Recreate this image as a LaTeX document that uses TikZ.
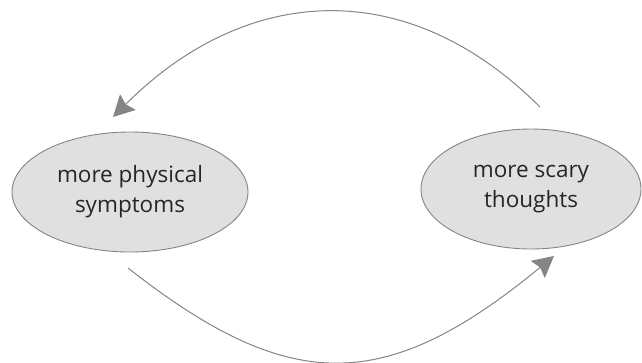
\documentclass[tikz,border=0pt]{standalone}
\usepackage{fontspec}
\setmainfont{Open Sans}
\usepackage{tikz}
\usetikzlibrary{shapes.geometric,arrows.meta}

\definecolor{bubblefill}{HTML}{E0E0E0}
\definecolor{linegray}{HTML}{858585}
\definecolor{textgray}{HTML}{262626}

\begin{document}
\begin{tikzpicture}[x=1pt, y=-1pt,
    bubble/.style={ellipse, draw=linegray, fill=bubblefill, line width=0.9pt,
      inner sep=0pt, align=center, text=textgray,
      font=\fontsize{22.5}{30}\selectfont},
    cycle/.style={draw=linegray, line width=1pt,
      -{Stealth[length=21pt, width=22pt, inset=3pt]}}]
      \useasboundingbox (0,0) rectangle (642,362);

      \node[bubble, minimum width=236pt, minimum height=120pt] (physical) at (130,192) {more physical\\symptoms};
      \node[bubble, minimum width=220pt, minimum height=120pt] (scary) at (531,189) {more scary\\thoughts};

      \coordinate (topstart) at (540,107);
      \coordinate (topend) at (113,117);
      \coordinate (botstart) at (128,268);
      \coordinate (botend) at (554,256);

      \draw[cycle] (topstart) .. controls (407,-26) and (246,-16) .. (topend);
      \draw[cycle] (botstart) .. controls (290,395) and (385,395) .. (botend);
    \end{tikzpicture}
\end{document}
